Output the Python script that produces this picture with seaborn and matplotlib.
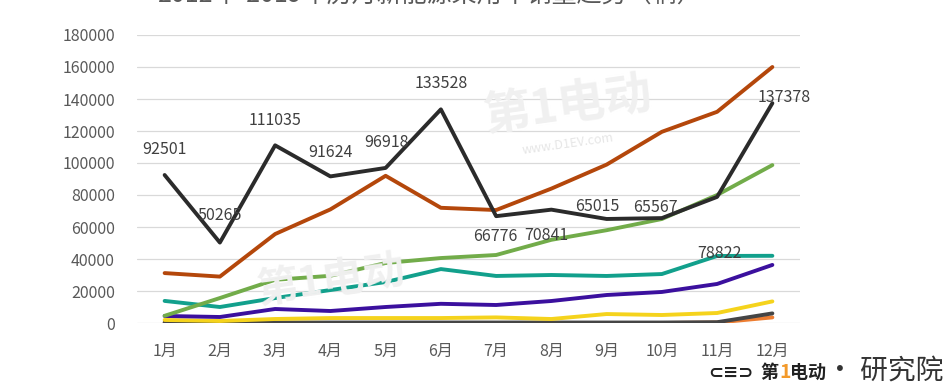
import numpy as np
import pandas as pd
import seaborn as sns
import matplotlib.pyplot as plt

months = ["1月", "2月", "3月", "4月", "5月", "6月", "7月", "8月", "9月", "10月", "11月", "12月"]

s_black = [92501, 50265, 111035, 91624, 96918, 133528, 66776, 70841, 65015, 65567, 78822, 137378]
s_brown = [31200, 29000, 55600, 71000, 92000, 72000, 70600, 84000, 99000, 119500, 132000, 160000]
s_green = [4500, 15600, 27000, 29500, 37500, 40600, 42500, 52000, 58000, 65000, 80000, 98700]
s_teal = [13800, 10000, 15600, 20600, 25600, 33700, 29400, 30000, 29400, 30600, 41900, 42000]
s_purple = [4400, 3750, 8750, 7500, 10000, 12000, 11250, 13750, 17500, 19400, 24400, 36300]
s_yellow = [1900, 1250, 2500, 3100, 3100, 3100, 3500, 2500, 5600, 5000, 6250, 13500]
s_gray = [300, 300, 300, 300, 300, 300, 300, 300, 300, 300, 500, 6000]
s_orange = [0, 0, 0, 0, 0, 0, 0, 0, 0, 0, 300, 3500]

series = {
    "系列8": s_orange,
    "系列7": s_gray,
    "系列6": s_yellow,
    "系列5": s_purple,
    "系列4": s_teal,
    "系列3": s_green,
    "系列2": s_brown,
    "系列1": s_black,
}
palette = {
    "系列8": "#ED7D31",
    "系列7": "#454545",
    "系列6": "#F5D31C",
    "系列5": "#3B109E",
    "系列4": "#12A08C",
    "系列3": "#72AC4A",
    "系列2": "#B4470B",
    "系列1": "#2B2B2B",
}

df = pd.DataFrame(
    [(name, m, v) for name, vals in series.items() for m, v in zip(months, vals)],
    columns=["series", "month", "value"],
)

sns.set_theme(style="white")
plt.rcParams["font.family"] = ["Noto Sans CJK SC", "DejaVu Sans"]

fig = plt.figure(figsize=(9.46, 3.9), dpi=100)
ax = fig.add_axes([137 / 946, 67 / 390, 663 / 946, 288 / 390])

sns.lineplot(data=df, x="month", y="value", hue="series", palette=palette,
             hue_order=list(series.keys()), linewidth=2.8, legend=False, ax=ax,
             sort=False)

ax.set_xlim(-0.5, 11.5)
ax.set_ylim(0, 180000)
ax.set_yticks(np.arange(0, 180001, 20000))
ax.yaxis.grid(True, color="#d9d9d9", linewidth=0.9)
ax.set_axisbelow(True)
for sp in ax.spines.values():
    sp.set_visible(False)
ax.tick_params(axis="both", length=0, labelsize=11.5, labelcolor="#595959")
ax.tick_params(axis="y", pad=16)
ax.tick_params(axis="x", pad=14)
ax.set_xlabel("")
ax.set_ylabel("")

# data labels for the top series (pixel offsets from each point)
offsets = [(0, 25), (0, 27), (0, 25), (0, 24), (1, 25), (0, 26),
           (-1, -20), (-5, -26), (-9, 12), (-6, 11), (2, -57), (12, 6)]
for i, (v, (dx, dy)) in enumerate(zip(s_black, offsets)):
    ax.annotate(str(v), xy=(i, v), xytext=(dx, dy), textcoords="offset pixels",
                ha="center", va="center", fontsize=11.5, color="#404040", zorder=5)

# watermarks
fig.text(0.60, 0.73, "第1电动", fontsize=34, fontweight="bold", color="#f0f0f0",
         rotation=8, ha="center", va="center", zorder=0)
fig.text(0.60, 0.63, "www.D1EV.com", fontsize=9, style="italic", color="#e6e6e6",
         rotation=8, ha="center", va="center", zorder=0)
fig.text(0.35, 0.28, "第1电动", fontsize=30, fontweight="bold", color="#f0f0f0",
         rotation=8, ha="center", va="center", zorder=0)

# cut-off title
fig.text(0.455, 1 - 2 / 390, "2012年-2019年历月新能源乘用车销量趋势（辆）", fontsize=18,
         color="#595959", ha="center", va="baseline")

# logo
fig.text(708 / 946, 0.02, "⊂≡⊃", fontsize=13, fontweight="bold", color="#222222",
         ha="left", va="bottom", family=["DejaVu Sans"])
fig.text(760 / 946, 0.02, "第", fontsize=13, fontweight="bold", style="italic",
         color="#222222", ha="left", va="bottom")
fig.text(779 / 946, 0.02, "1", fontsize=14, fontweight="bold", style="italic",
         color="#F39A2B", ha="left", va="bottom")
fig.text(790 / 946, 0.02, "电动", fontsize=13, fontweight="bold", style="italic",
         color="#222222", ha="left", va="bottom")
fig.text(943 / 946, 0.012, "• 研究院", fontsize=20, color="#333333", ha="right", va="bottom")

fig.savefig("out.png", dpi=100)
